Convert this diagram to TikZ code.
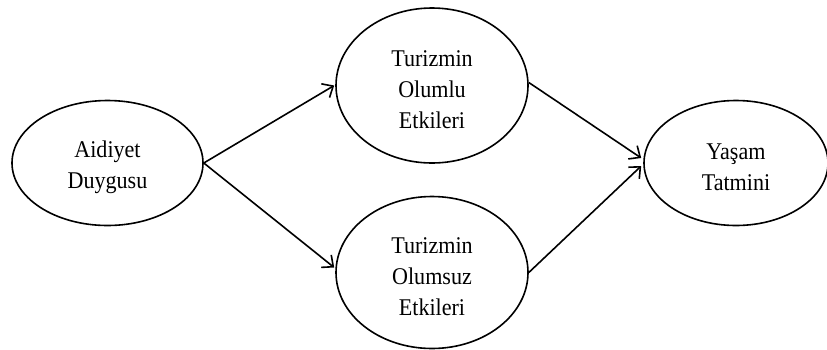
\documentclass[tikz,border=0pt]{standalone}
\usepackage{fontspec}
\setmainfont{Liberation Serif}
\newfontfamily\ovalfont[FakeStretch=0.92]{Liberation Serif}
\usetikzlibrary{shapes.geometric,arrows.meta,calc}
\begin{document}
\begin{tikzpicture}[x=1pt,y=-1pt,
  oval/.style={ellipse,draw,line width=1.6pt,inner sep=0pt,align=center,
    font=\ovalfont\fontsize{24}{31}\selectfont},
  link/.style={line width=1.6pt,-{Straight Barb[length=9pt,width=16pt,line width=1.6pt]}}]
\useasboundingbox (0,0) rectangle (827,349);
\node[oval,minimum width=191pt,minimum height=125pt] (A) at (107.5,163) {\\[-6pt]Aidiyet\\Duygusu};
\node[oval,minimum width=192pt,minimum height=155pt] (P) at (432,85.5) {\\[-6pt]Turizmin\\Olumlu\\Etkileri};
\node[oval,minimum width=192pt,minimum height=152pt] (N) at (432,272.5) {\\[-6pt]Turizmin\\Olumsuz\\Etkileri};
\node[oval,minimum width=184pt,minimum height=125pt] (Y) at (736,163) {\\[-6pt]Yaşam\\Tatmini};
\draw[link] (A.east) -- ($(P.west)+(-1,0)$);
\draw[link] (A.east) -- ($(N.west)+(-1,-5)$);
\draw[link] ($(P.east)+(0,-3)$) -- ($(Y.west)+(-2,-5)$);
\draw[link] (N.east) -- ($(Y.west)+(-2,3)$);
\end{tikzpicture}
\end{document}
